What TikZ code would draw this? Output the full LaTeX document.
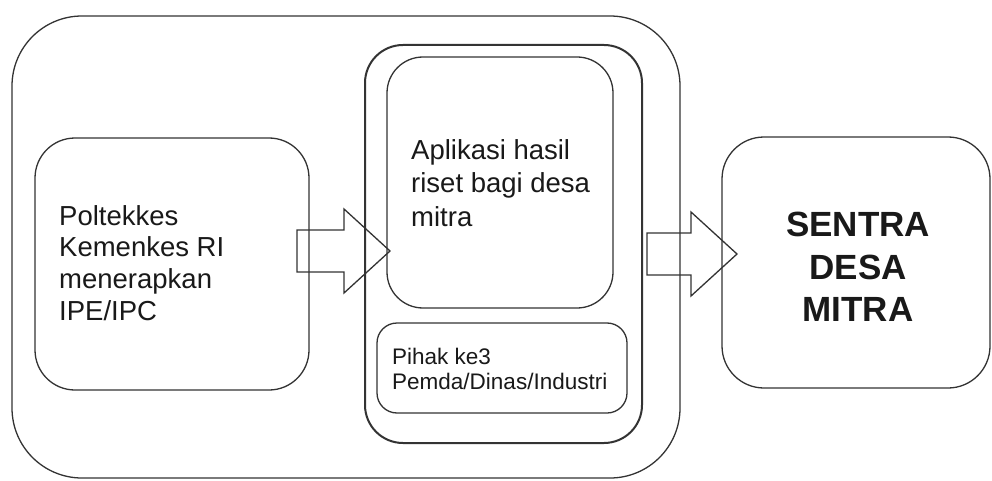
\documentclass[tikz,border=0pt]{standalone}
\usepackage{fontspec}
\setmainfont{Liberation Sans}
\usetikzlibrary{calc}
\tikzset{
  box/.style={draw=black!80, line width=1.3pt, rounded corners=#1, inner sep=0pt},
  box/.default=40pt,
  txt/.style={inner sep=0pt, align=left, anchor=west, text=black!90},
  barrow/.style={draw=black!80, line width=1.3pt, line join=miter}
}
\newcommand\blockarrow[2]{%
  \draw[barrow] let \p1=(#1), \p2=(#2) in
    (\x1,\y1+21pt) -- (\x2-46pt,\y1+21pt) -- (\x2-46pt,\y1+42pt) -- (\x2,\y1)
    -- (\x2-46pt,\y1-42pt) -- (\x2-46pt,\y1-21pt) -- (\x1,\y1-21pt) -- cycle;}
\begin{document}
\begin{tikzpicture}[x=1pt,y=-1pt]
\useasboundingbox[fill=white] (0,0) rectangle (992,481);
% boxes
\node[box=70pt, minimum width=668pt, minimum height=462pt] (outer) at (346,247) {};
\node[box=40pt, minimum width=274pt, minimum height=252pt] (left) at (172,264) {};
\node[box=38pt, minimum width=277pt, minimum height=398pt, line width=2pt] (mid) at (503.5,244) {};
\node[box=36pt, minimum width=226pt, minimum height=251pt] (app) at (500,182.5) {};
\node[box=20pt, minimum width=250pt, minimum height=90pt] (pihak) at (502,368) {};
\node[box=42pt, minimum width=268pt, minimum height=251pt] (sentra) at (856,262.5) {};
% texts
\node[txt, font=\fontsize{27.5}{31.7}\selectfont] (lefttxt) at (59,263)
  {Poltekkes\\Kemenkes RI\\menerapkan\\IPE/IPC};
\node[txt, font=\fontsize{27.5}{33.5}\selectfont] (apptxt) at (411,183)
  {Aplikasi hasil\\riset bagi desa\\mitra};
\node[txt, font=\fontsize{22.5}{25}\selectfont] (pihaktxt) at (392,369)
  {Pihak ke3\\Pemda/Dinas/Industri};
\node[inner sep=0pt, align=center, text=black!90, font=\bfseries\fontsize{35}{42.5}\selectfont] (sentratxt) at (858,267)
  {SENTRA\\DESA\\MITRA};
% arrows
\coordinate (a1s) at (297,251);
\coordinate (a1t) at (390,251);
\coordinate (a2s) at (647,254);
\coordinate (a2t) at (737,254);
\blockarrow{a1s}{a1t}
\blockarrow{a2s}{a2t}
\end{tikzpicture}
\end{document}
